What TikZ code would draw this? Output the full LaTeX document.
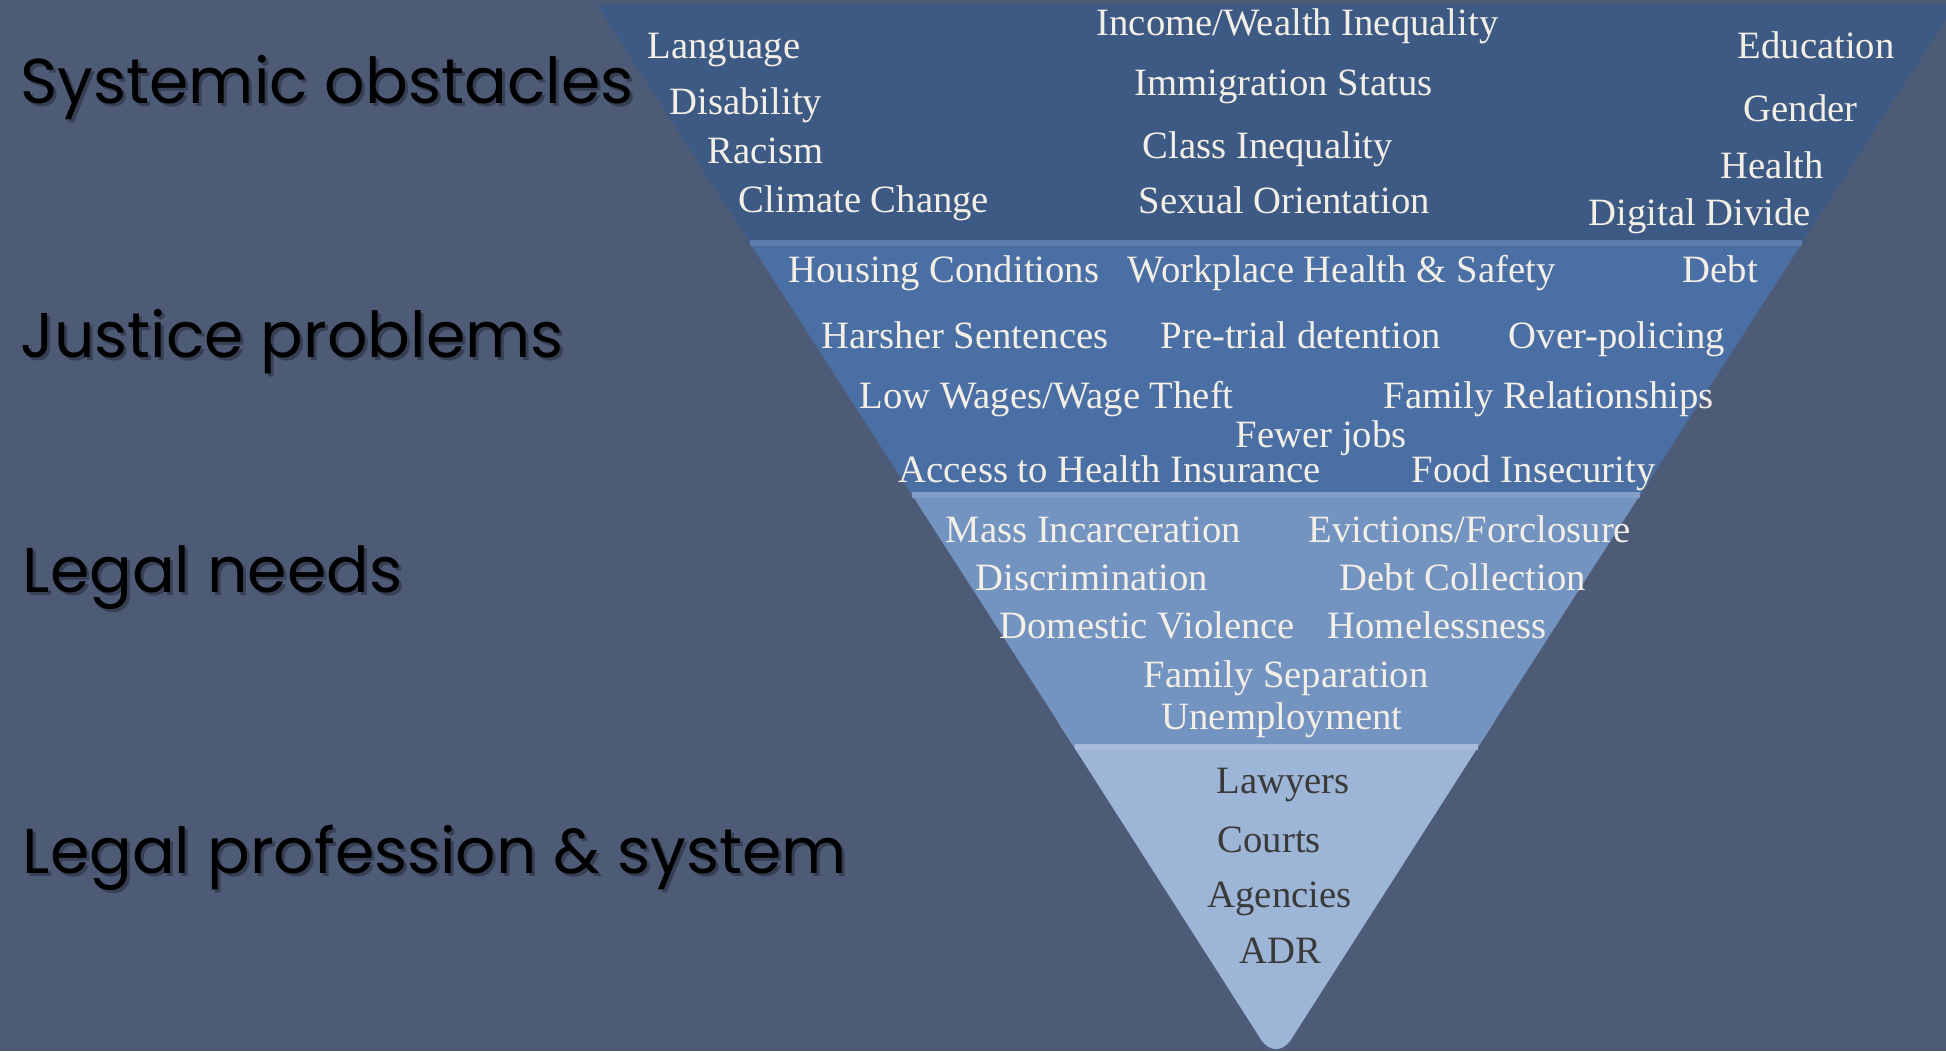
\documentclass[tikz,border=0pt]{standalone}
\usepackage{fontspec}
\setmainfont{Liberation Serif}
\newfontfamily\levelfont{Poppins}

\definecolor{bg}{HTML}{4E5B77}
\definecolor{bandA}{HTML}{3D5A84}
\definecolor{bandB}{HTML}{4A6FA5}
\definecolor{bandC}{HTML}{7393C0}
\definecolor{bandD}{HTML}{9DB5D6}
\definecolor{cream}{HTML}{F3EEE6}
\definecolor{ink}{HTML}{3A3A3A}

\tikzset{
  item/.style={anchor=base west, inner sep=0pt, text=cream, font=\fontsize{11}{13}\selectfont},
  darkitem/.style={item, text=ink},
  level/.style={anchor=base west, inner sep=0pt, text=black, font=\levelfont\fontsize{18}{22}\selectfont},
  levelshadow/.style={level, text=black, opacity=0.3},
  rim/.style={line width=1.5}
}

\begin{document}
\begin{tikzpicture}[x=0.01cm,y=-0.01cm]
  \useasboundingbox (0,0) rectangle (1946,1051);
  \clip (0,0) rectangle (1946,1051);
  \fill[bg] (0,0) rectangle (1946,1051);

  % funnel, bottom band first so its top corners sit under the next one
  \fill[bandD, rounded corners=8pt] (1043.9,700) -- (1508.1,700) -- (1276,1063) -- cycle;
  \fill[bandC] (911.4,494) -- (1640.6,494) -- (1478.5,746) -- (1073.5,746) -- cycle;
  \fill[bandB] (749.4,242) -- (1802.6,242) -- (1640.6,494) -- (911.4,494) -- cycle;
  \fill[bandA] (597,5) -- (1955,5) -- (1802.6,242) -- (749.4,242) -- cycle;
  \draw[rim, bandB!90!white] (750.4,243) -- (1801.6,243);
  \draw[rim, bandC!90!white] (912.4,495) -- (1639.6,495);
  \draw[rim, bandD!90!white] (1074.5,747) -- (1477.5,747);

  % level names
  \node[levelshadow] (obst-sh) at (23,106) {Systemic obstacles};
  \node[level] (obst) at (20,103) {Systemic obstacles};
  \node[levelshadow] (just-sh) at (23,360) {Justice problems};
  \node[level] (just) at (20,357) {Justice problems};
  \node[levelshadow] (need-sh) at (25,595) {Legal needs};
  \node[level] (need) at (22,592) {Legal needs};
  \node[levelshadow] (prof-sh) at (25,876) {Legal profession \& system};
  \node[level] (prof) at (22,873) {Legal profession \& system};

  % systemic obstacles
  \node[item] (lang) at (647,58) {Language};
  \node[item] (disab) at (669,114) {Disability};
  \node[item] (racism) at (707,163) {Racism};
  \node[item] (climate) at (738,212) {Climate Change};
  \node[item] (income) at (1096,35) {Income/Wealth Inequality};
  \node[item] (immig) at (1134,95) {Immigration Status};
  \node[item] (class) at (1142,158) {Class Inequality};
  \node[item] (sexual) at (1138,213) {Sexual Orientation};
  \node[item] (educ) at (1737,58) {Education};
  \node[item] (gender) at (1743,121) {Gender};
  \node[item] (health) at (1720,178) {Health};
  \node[item] (digital) at (1588,225) {Digital Divide};

  % justice problems
  \node[item] (housing) at (788,282) {Housing Conditions};
  \node[item] (work) at (1127,282) {Workplace Health \& Safety};
  \node[item] (debt) at (1682,282) {Debt};
  \node[item] (harsh) at (821,348) {Harsher Sentences};
  \node[item] (pretrial) at (1160,348) {Pre-trial detention};
  \node[item] (police) at (1508,348) {Over-policing};
  \node[item] (wages) at (859,408) {Low Wages/Wage Theft};
  \node[item] (family) at (1383,408) {Family Relationships};
  \node[item] (jobs) at (1235,447) {Fewer jobs};
  \node[item] (insur) at (898,482) {Access to Health Insurance};
  \node[item] (food) at (1411,482) {Food Insecurity};

  % legal needs
  \node[item] (mass) at (945,542) {Mass Incarceration};
  \node[item] (evict) at (1308,542) {Evictions/Forclosure};
  \node[item] (discr) at (975,590) {Discrimination};
  \node[item] (collect) at (1339,590) {Debt Collection};
  \node[item] (domestic) at (999,638) {Domestic Violence};
  \node[item] (homeless) at (1327,638) {Homelessness};
  \node[item] (separ) at (1143,687) {Family Separation};
  \node[item] (unemp) at (1161,729) {Unemployment};

  % legal profession
  \node[darkitem] (lawyers) at (1216,793) {Lawyers};
  \node[darkitem] (courts) at (1217,852) {Courts};
  \node[darkitem] (agency) at (1207,907) {Agencies};
  \node[darkitem] (adr) at (1239,963) {ADR};
\end{tikzpicture}
\end{document}
